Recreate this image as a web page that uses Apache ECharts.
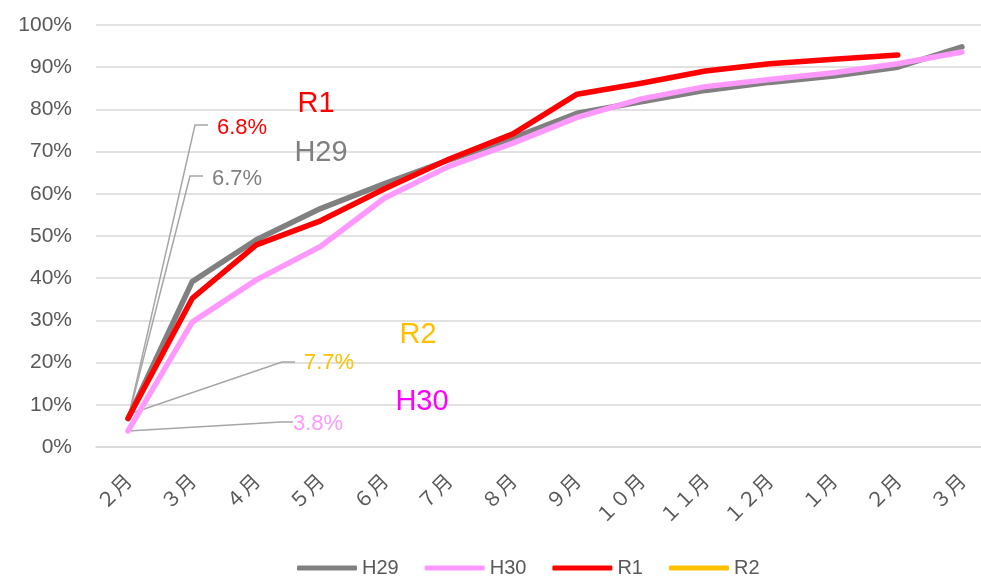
<!DOCTYPE html>
<html><head><meta charset="utf-8">
<script src="https://cdn.jsdelivr.net/npm/echarts@6/dist/echarts.min.js"></script>
<style>html,body{margin:0;padding:0;background:#fff;}#c{width:981px;height:576px;}</style>
</head><body><div id="c"></div>
<script>
const categories = ['２月','３月','４月','５月','６月','７月','８月','９月','１０月','１１月','１２月','１月','２月','３月'];
const H29 = [6.7, 39.2, 49.1, 56.5, 62.4, 68.0, 73.2, 79.1, 81.8, 84.5, 86.4, 87.9, 90.0, 94.8];
const H30 = [3.8, 29.6, 39.6, 47.5, 59.0, 66.5, 72.0, 78.1, 82.5, 85.4, 87.1, 88.7, 90.8, 93.6];
const R1  = [6.8, 35.2, 47.9, 53.6, 61.2, 68.2, 74.2, 83.6, 86.2, 89.1, 90.8, 91.9, 92.9];
const R2  = [7.7];
const yTicks = [0, 10, 20, 30, 40, 50, 60, 70, 80, 90, 100];

const colors = {H29:'#808080', H30:'#FF99FF', R1:'#FF0000', R2:'#FFC000'};
const chart = echarts.init(document.getElementById('c'));
function ser(name, data){
  return {name, type:'line', data, showSymbol:false, symbol:'none', smooth:false,
    lineStyle:{color:colors[name], width:5.5, cap:'round', join:'round'},
    itemStyle:{color:colors[name]}, animation:false};
}
chart.setOption({
  animation:false,
  grid:{left:96, top:25, width:898, height:422, containLabel:false, outerBoundsMode:'none'},
  legend:{left:292, top:553, itemWidth:60, itemHeight:5, itemGap:26, icon:'roundRect',
    textStyle:{color:'#595959', fontSize:20, fontFamily:'Liberation Sans, Arial'},
    data:['H29','H30','R1','R2']},
  xAxis:{type:'category', data:categories, boundaryGap:true,
    axisLine:{lineStyle:{color:'#d9d9d9', width:1.5}}, axisTick:{show:false},
    axisLabel:{rotate:45, margin:30, color:'#595959', fontSize:20, fontFamily:'Noto Sans CJK JP', interval:0}},
  yAxis:{type:'value', min:yTicks[0], max:yTicks[yTicks.length-1], interval:10,
    axisLine:{show:false}, axisTick:{show:false},
    splitLine:{lineStyle:{color:'#d9d9d9', width:1.5}},
    axisLabel:{formatter:'{value}%', color:'#595959', fontSize:21, margin:24, fontFamily:'Liberation Sans, Arial'}},
  series:[ser('H29',H29), ser('H30',H30), ser('R1',R1), ser('R2',R2)]
});

// annotations
const ann = [
  {v:R1[0], txt:R1[0].toFixed(1)+'%', color:'#FF0000', elbow:[195,125], end:[208,125], tx:217, ty:128},
  {v:H29[0], txt:H29[0].toFixed(1)+'%', color:'#7F7F7F', elbow:[190,176], end:[203,176], tx:212, ty:179},
  {v:R2[0], txt:R2[0].toFixed(1)+'%', color:'#FFC000', elbow:[282,362], end:[295,362], tx:304, ty:363},
  {v:H30[0], txt:H30[0].toFixed(1)+'%', color:'#FF99FF', elbow:[281,422], end:[293,422], tx:293, ty:424}
];
const g = [];
ann.forEach(a=>{
  const p = chart.convertToPixel({gridIndex:0},[0,a.v]);
  g.push({type:'polyline', z:1, shape:{points:[p, a.elbow, a.end]}, style:{stroke:'#A6A6A6', lineWidth:1.5, fill:null}});
  g.push({type:'text', z:10, x:a.tx, y:a.ty, style:{text:a.txt, fill:a.color, font:'22px "Liberation Sans", Arial', textAlign:'left', textVerticalAlign:'middle'}});
});
const names = [
  {t:'R1', c:'#FF0000', x:316, y:104},
  {t:'H29', c:'#808080', x:321, y:153},
  {t:'R2', c:'#FFC000', x:418, y:335},
  {t:'H30', c:'#FF00FF', x:422, y:402}
];
names.forEach(n=>{
  g.push({type:'text', z:10, x:n.x, y:n.y, style:{text:n.t, fill:n.c, font:'29px "Liberation Sans", Arial', textAlign:'center', textVerticalAlign:'middle'}});
});
chart.setOption({graphic:g});
</script></body></html>
